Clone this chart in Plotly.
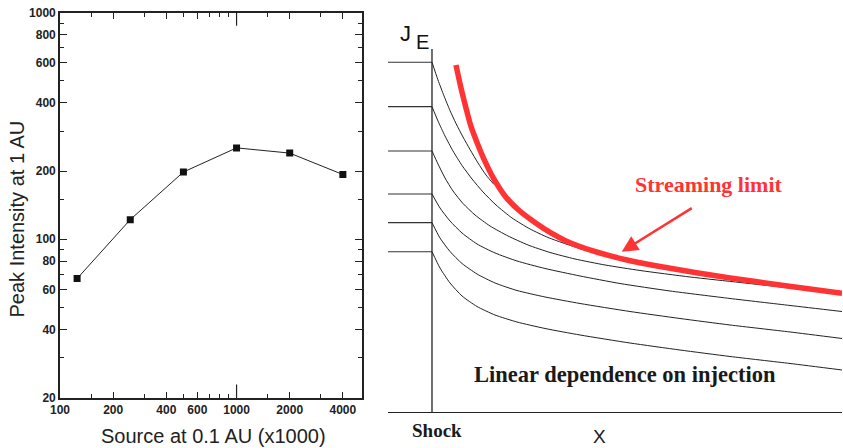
import math
import plotly.graph_objects as go

# ---------------- Left panel data ----------------
source = [125, 250, 500, 1000, 2000, 4000]
peak = [67, 122, 198, 253, 240, 193]
x_ticks = [100, 200, 400, 600, 1000, 2000, 4000]
x_minor = [150, 300, 500, 700, 800, 900, 1500, 3000]
y_ticks = [20, 40, 60, 80, 100, 200, 400, 600, 800, 1000]
y_minor = [30, 50, 70, 90, 150, 300, 500, 700, 900]
x_decade_tick = 1000

# ---------------- Right panel data (schematic, arbitrary units) ----------------
c1_x = [0, 0.146, 0.293, 0.439, 0.585, 0.756, 0.927, 1.122, 1.317, 1.512]
c1_y = [9.991, 9.486, 9.029, 8.614, 8.243, 7.857, 7.5, 7.114, 6.771, 6.5]
c2_x = [0, 0.146, 0.317, 0.512, 0.732, 0.976, 1.244, 1.561, 1.951, 2.390, 2.829, 3.268, 3.927, 4.756]
c2_y = [8.723, 8.314, 7.886, 7.457, 7.043, 6.657, 6.286, 5.914, 5.543, 5.229, 4.986, 4.8, 4.557, 4.329]
c3_x = [0, 0.146, 0.317, 0.512, 0.756, 1.049, 1.415, 1.854, 2.341, 2.878, 3.488, 4.220, 5.073,
        6.293, 7.512, 8.732, 10.0]
c3_y = [7.457, 7.086, 6.686, 6.314, 5.957, 5.629, 5.314, 5.029, 4.771, 4.557, 4.371, 4.2, 4.043,
        3.857, 3.7, 3.543, 3.386]
c4_x = [0, 0.195, 0.439, 0.732, 1.098, 1.537, 2.073, 2.756, 3.610, 4.585, 5.805, 7.268, 8.732, 10.0]
c4_y = [6.229, 5.829, 5.457, 5.114, 4.8, 4.543, 4.314, 4.1, 3.886, 3.671, 3.457, 3.243, 3.043, 2.871]
c5_x = [0, 0.195, 0.439, 0.732, 1.098, 1.537, 2.073, 2.756, 3.610, 4.829, 6.049, 7.268, 8.732, 10.0]
c5_y = [5.409, 4.971, 4.586, 4.243, 3.943, 3.686, 3.471, 3.286, 3.1, 2.871, 2.671, 2.486, 2.286, 2.1]
c6_x = [0, 0.195, 0.439, 0.732, 1.098, 1.537, 2.073, 2.756, 3.610, 4.829, 6.049, 7.268, 8.732, 10.0]
c6_y = [4.580, 4.114, 3.686, 3.314, 3.014, 2.771, 2.571, 2.386, 2.2, 1.971, 1.771, 1.586, 1.386, 1.2]
limit_x = [0.585, 0.707, 0.829, 0.951, 1.122, 1.293, 1.488, 1.780, 2.098, 2.512, 2.902, 3.268,
           3.927, 4.756, 5.561, 6.488, 7.268, 8.488, 10.0]
limit_y = [9.914, 9.257, 8.686, 8.157, 7.629, 7.157, 6.700, 6.171, 5.786, 5.414, 5.114, 4.886,
           4.600, 4.343, 4.157, 3.971, 3.829, 3.629, 3.391]
curves = [(c1_x, c1_y), (c2_x, c2_y), (c3_x, c3_y), (c4_x, c4_y), (c5_x, c5_y), (c6_x, c6_y)]
arrow_tip = (4.627, 4.58)
arrow_tail = (6.373, 5.85)

W, H = 843, 448
X_RANGE = [2, 3.7076]
X2_RANGE = [-1.073, 10.0]
Y2_RANGE = [0, 10.37]
LEFT_TOP, LEFT_BOTTOM = 12.7, 397.5


def fx(px):
    return px / W


def fy(py):
    return 1 - py / H


fig = go.Figure()

# left panel
fig.add_trace(go.Scatter(
    x=source, y=peak, mode="lines+markers",
    line=dict(color="#222222", width=1),
    marker=dict(symbol="square", size=7, color="#111111"),
    xaxis="x", yaxis="y", showlegend=False))

# right panel: injection level ticks
for cx, cy in curves:
    fig.add_trace(go.Scatter(
        x=[X2_RANGE[0], 0], y=[cy[0], cy[0]], mode="lines",
        line=dict(color="#333333", width=1.1),
        xaxis="x2", yaxis="y2", showlegend=False, hoverinfo="skip"))
for cx, cy in curves:
    fig.add_trace(go.Scatter(
        x=cx, y=cy, mode="lines",
        line=dict(color="#222222", width=1, shape="spline", smoothing=0.6),
        xaxis="x2", yaxis="y2", showlegend=False))
fig.add_trace(go.Scatter(
    x=limit_x, y=limit_y, mode="lines",
    line=dict(color="#ff3333", width=5.5, shape="spline", smoothing=0.6),
    xaxis="x2", yaxis="y2", showlegend=False))

tickfont = dict(family="Arial", size=12, color="#222222", weight="bold")
fig.update_layout(
    width=W, height=H, autosize=False,
    margin=dict(l=0, r=0, t=0, b=0, pad=0),
    paper_bgcolor="white", plot_bgcolor="white",
    xaxis=dict(
        type="log", domain=[fx(60), fx(361.5)], range=X_RANGE,
        tickvals=x_ticks, ticktext=[str(v) for v in x_ticks],
        ticks="inside", ticklen=6, tickwidth=1.2, tickcolor="#222222",
        minor=dict(tickvals=x_minor, ticks="inside", ticklen=4, tickcolor="#222222"),
        showline=True, linecolor="#222222", linewidth=1.6, mirror="allticks",
        showgrid=False, zeroline=False, tickfont=tickfont, tickangle=0,
        automargin=False, anchor="y"),
    yaxis=dict(
        type="log", domain=[fy(LEFT_BOTTOM), fy(LEFT_TOP)], range=[1.30103, 3],
        tickvals=y_ticks, ticktext=[str(v) for v in y_ticks],
        ticks="inside", ticklen=7, tickwidth=1.2, tickcolor="#222222",
        minor=dict(tickvals=y_minor, ticks="inside", ticklen=4, tickcolor="#222222"),
        showline=True, linecolor="#222222", linewidth=1.6, mirror="allticks",
        showgrid=False, zeroline=False, tickfont=tickfont,
        automargin=False, anchor="x"),
    xaxis2=dict(
        domain=[fx(388), fx(842)], range=X2_RANGE,
        showline=True, linecolor="#222222", linewidth=1.3,
        showgrid=False, zeroline=False, showticklabels=False, ticks="",
        automargin=False, anchor="y2"),
    yaxis2=dict(
        domain=[fy(412), fy(49)], range=Y2_RANGE,
        showline=False, showgrid=False, zeroline=False,
        showticklabels=False, ticks="", automargin=False, anchor="x2"),
)

# longer decade tick at 1000 (top and bottom)
dec_frac = (math.log10(x_decade_tick) - X_RANGE[0]) / (X_RANGE[1] - X_RANGE[0])
tick_frac = 13 / (LEFT_BOTTOM - LEFT_TOP)
for y0, y1 in [(0, tick_frac), (1 - tick_frac, 1)]:
    fig.add_shape(type="line", xref="x domain", yref="y domain",
                  x0=dec_frac, x1=dec_frac, y0=y0, y1=y1,
                  line=dict(color="#222222", width=1.2))

# vertical "shock" axis line
fig.add_shape(type="line", xref="x2", yref="y2 domain", x0=0, x1=0, y0=0, y1=1,
              line=dict(color="#222222", width=1.3))

serif = "Liberation Serif"
anns = [
    dict(x=fx(16.5), y=fy(219), text="Peak Intensity at 1 AU", textangle=-90,
         font=dict(family="Arial", size=20, color="#222222")),
    dict(x=fx(213), y=fy(436), text="Source at 0.1 AU (x1000)",
         font=dict(family="Arial", size=20, color="#222222")),
    dict(x=fx(405.7), y=fy(33), text="J", font=dict(family="Arial", size=22, color="#111111")),
    dict(x=fx(422), y=fy(42), text="E", font=dict(family="Arial", size=20, color="#111111")),
    dict(x=fx(709), y=fy(184.3), text="<b>Streaming limit</b>",
         font=dict(family=serif, size=22, color="#ff3333")),
    dict(x=fx(625), y=fy(374), text="<b>Linear dependence on injection</b>",
         font=dict(family=serif, size=22.5, color="#1a1a1a")),
    dict(x=fx(436.7), y=fy(430), text="<b>Shock</b>",
         font=dict(family=serif, size=19, color="#1a1a1a")),
    dict(x=fx(599.5), y=fy(436), text="X",
         font=dict(family="Arial", size=19, color="#1a1a2a")),
]
for a in anns:
    fig.add_annotation(xref="paper", yref="paper", showarrow=False,
                       xanchor="center", yanchor="middle", **a)

fig.add_annotation(
    x=arrow_tip[0], y=arrow_tip[1], ax=arrow_tail[0], ay=arrow_tail[1],
    xref="x2", yref="y2", axref="x2", ayref="y2", text="",
    showarrow=True, arrowhead=2, arrowsize=1.3, arrowwidth=2.5, arrowcolor="#ff3333")

fig.write_html(
    "out.html",
    config={"displayModeBar": False},
    post_script="document.body.style.margin='0';document.body.style.overflow='hidden';",
)
